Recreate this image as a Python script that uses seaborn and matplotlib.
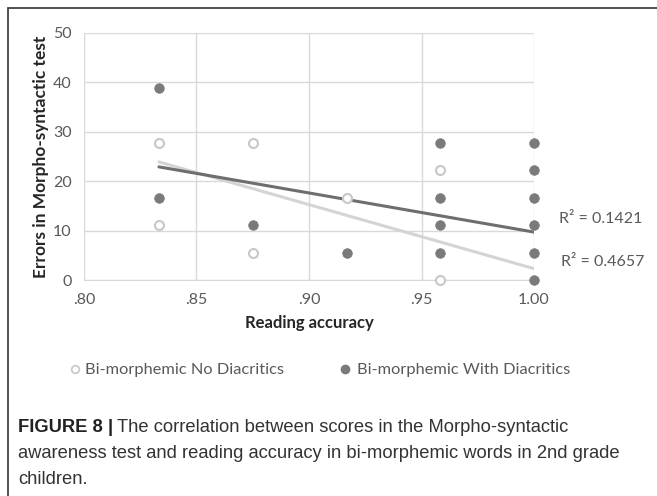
import numpy as np
import pandas as pd
import seaborn as sns
import matplotlib.pyplot as plt
from matplotlib.patches import Rectangle
from matplotlib.lines import Line2D

# reading accuracy vs. errors (%)
no_diac_x = [0.8333, 0.8333, 0.875, 0.875, 0.9167, 0.9583, 0.9583]
no_diac_y = [27.8, 11.1, 27.8, 5.56, 16.7, 22.2, 0.0]

with_diac_x = [0.8333, 0.8333, 0.875, 0.9167,
               0.9583, 0.9583, 0.9583, 0.9583,
               1.0, 1.0, 1.0, 1.0, 1.0, 1.0]
with_diac_y = [38.9, 16.7, 11.1, 5.56,
               27.8, 16.7, 11.1, 5.56,
               27.8, 22.2, 16.7, 11.1, 5.56, 0.0]

# Excel linear trend lines (ends)
trend_x = [0.8333, 1.0]
trend_no_diac = [23.9, 2.3]
trend_with_diac = [22.9, 9.7]
r2_labels = ['R² = 0.1421', 'R² = 0.4657']

x_ticks = [0.80, 0.85, 0.90, 0.95, 1.00]
x_ticklabels = ['.80', '.85', '.90', '.95', '1.00']
y_ticks = [0, 10, 20, 30, 40, 50]

df_no = pd.DataFrame({'x': no_diac_x, 'y': no_diac_y})
df_with = pd.DataFrame({'x': with_diac_x, 'y': with_diac_y})
df_trend = pd.DataFrame({'x': trend_x, 'no': trend_no_diac, 'with': trend_with_diac})

sns.set_style('white')
plt.rcParams['font.family'] = ['Lato', 'DejaVu Sans']

fig = plt.figure(figsize=(6.57, 4.96), dpi=100)
ax = fig.add_axes([84 / 657, 216 / 496, 450 / 657, 247 / 496])

dark = '#7a7a7a'
light = '#c8c8c8'

sns.lineplot(data=df_trend, x='x', y='no', ax=ax, color='#d4d4d4', linewidth=2.2)
sns.lineplot(data=df_trend, x='x', y='with', ax=ax, color='#6e6e6e', linewidth=2.2)
sns.scatterplot(data=df_no, x='x', y='y', ax=ax, s=42, facecolor='white',
                edgecolor=light, linewidth=1.5, zorder=3, clip_on=False)
sns.scatterplot(data=df_with, x='x', y='y', ax=ax, s=48, color=dark,
                edgecolor=dark, linewidth=0.5, zorder=4, clip_on=False)

ax.set_xlim(0.80, 1.00)
ax.set_ylim(0, 50)
ax.set_xticks(x_ticks)
ax.set_xticklabels(x_ticklabels)
ax.set_yticks(y_ticks)
ax.grid(True, color='#d9d9d9', linewidth=1)
ax.set_axisbelow(True)
for side in ['top', 'right', 'left']:
    ax.spines[side].set_visible(False)
ax.spines['bottom'].set_color('#d9d9d9')
ax.tick_params(axis='both', length=0, labelsize=11.5, labelcolor='#595959')
ax.tick_params(axis='x', pad=9)
ax.tick_params(axis='y', pad=9)
ax.set_xlabel('Reading accuracy', fontsize=12, fontweight='bold', labelpad=6)
ax.set_ylabel('Errors in Morpho-syntactic test', fontsize=12.5, fontweight='bold', labelpad=3)

ax.text(1.011, trend_with_diac[1] + 2.6, r2_labels[0], fontsize=11.5, color='#595959',
        va='center', ha='left')
ax.text(1.012, trend_no_diac[1] + 1.3, r2_labels[1], fontsize=11.5, color='#595959',
        va='center', ha='left')

# legend row
leg_y = 1 - 370 / 496
fig.add_artist(Line2D([75 / 657], [leg_y + 0.002], marker='o', markersize=5.5,
                      markerfacecolor='white', markeredgecolor=light,
                      markeredgewidth=1.2, transform=fig.transFigure))
fig.text(85 / 657, leg_y, 'Bi-morphemic No Diacritics', fontsize=11.8,
         color='#595959', va='center')
fig.add_artist(Line2D([345 / 657], [leg_y + 0.002], marker='o', markersize=6,
                      markerfacecolor=dark, markeredgecolor=dark,
                      transform=fig.transFigure))
fig.text(357 / 657, leg_y, 'Bi-morphemic With Diacritics', fontsize=11.8,
         color='#595959', va='center')

# outer frame
fig.patches.append(Rectangle((8 / 657, -0.01), 1.0, 1 - 8 / 496 + 0.01,
                             transform=fig.transFigure, fill=False,
                             edgecolor='#333333', linewidth=1.2))

# caption
cap_font = ['Liberation Sans', 'DejaVu Sans']
cap_size = 13.2
head = fig.text(18 / 657, 1 - 428 / 496, 'FIGURE 8 |', fontsize=cap_size, fontweight='bold',
                family=cap_font, va='center', color='#222222')
ax.annotate('The correlation between scores in the Morpho-syntactic', xy=(1, 0.5),
            xycoords=head, xytext=(3, 0), textcoords='offset points', va='center',
            fontsize=cap_size, family=cap_font, color='#333333', annotation_clip=False)
fig.text(18 / 657, 1 - 453 / 496,
         'awareness test and reading accuracy in bi-morphemic words in 2nd grade',
         fontsize=cap_size, family=cap_font, va='center', color='#333333')
fig.text(18 / 657, 1 - 479 / 496, 'children.', fontsize=cap_size, family=cap_font,
         va='center', color='#333333')

fig.savefig('out.png', dpi=100)
